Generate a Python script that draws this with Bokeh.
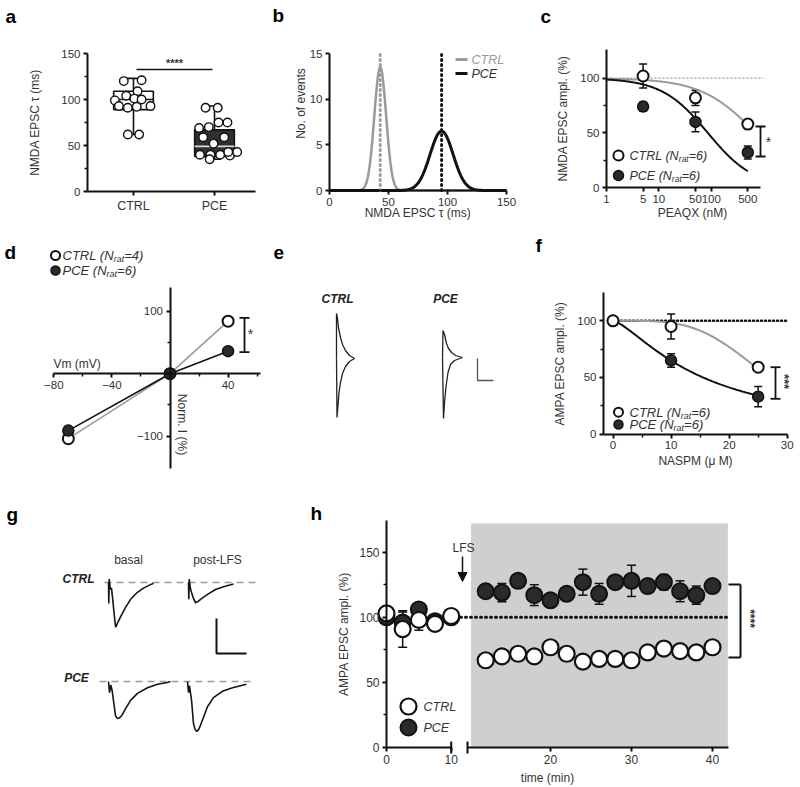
import math
from bokeh.plotting import figure
from bokeh.layouts import row, column
from bokeh.models import (Range1d, FixedTicker, Whisker, TeeHead, ColumnDataSource, Label,
                          Arrow, NormalHead, LinearAxis, BoxAnnotation)
from bokeh.core.properties import value
from bokeh.embed import file_html
from bokeh.resources import INLINE

FONT = "Liberation Sans"
INK = "#111111"
TXT = "#333333"
GREY = "#9a9a9a"
DARK = "#2a2a2a"

# ------------------------------------------------------------------ DATA
# (a) NMDA EPSC decay tau (ms)
a_groups = ["CTRL", "PCE"]
a_ctrl_tau = [120, 121, 109, 99, 104, 101, 100, 93, 93, 91, 92, 62, 62]
a_ctrl_jit = [-0.12, 0.10, 0.05, -0.23, -0.09, 0.01, 0.10, 0.21, -0.18, -0.07, 0.04, -0.07, 0.07]
a_pce_tau = [91, 91, 69, 70, 75, 75, 59, 59, 52, 40, 40, 40, 39, 43, 43, 35]
a_pce_jit = [-0.11, 0.04, -0.19, -0.07, 0.05, 0.16, -0.14, 0.12, -0.01, -0.18, -0.05, 0.07, 0.19, 0.17, 0.28, -0.06]
a_min = [62, 35]
a_q1 = [89, 38]
a_med = [100, 49]
a_q3 = [109, 67]
a_max = [123, 93]

# (b) gaussian fits of tau distributions: mean, sd, amplitude
b_groups = ["CTRL", "PCE"]
b_mean = [43, 95]
b_sd = [5.0, 9.8]
b_amp = [13.5, 6.5]

# (c) PEAQX dose response
c_conc = [5, 50, 500]
c_ctrl = [102, 82, 58]
c_ctrl_err = [11, 7, 4]
c_pce = [74, 60, 32]
c_pce_err = [4, 9, 6]
c_fit_ic50 = [707, 86]      # CTRL, PCE
c_fit_hill = [0.83, 0.985]
c_ticks = [1, 5, 10, 50, 100, 500]

# (d) I-V
d_vm = [-70, 0, 40]
d_ctrl = [-104, 0, 84]
d_ctrl_err = [6, 0, 3]
d_pce = [-91, 0, 36]
d_pce_err = [7, 0, 3]

# (e) example traces (ms, pA) relative to trace onset
e_ctrl_up_t = [0, 0, 0.1, 0.2, 0.4, 0.6, 0.9, 1.3, 1.8]
e_ctrl_up_i = [0, 450, 400, 310, 210, 140, 80, 30, 0]
e_ctrl_dn_t = [0, 0.05, 0.15, 0.25, 0.4, 0.6, 0.9, 1.3, 1.8]
e_ctrl_dn_i = [0, -590, -470, -340, -240, -150, -80, -30, 0]
e_pce_up_t = [0, 0.05, 0.2, 0.4, 0.6, 0.9, 1.3, 2.0]
e_pce_up_i = [0, 270, 230, 140, 90, 50, 20, 0]
e_pce_dn_t = [0, 0.1, 0.2, 0.35, 0.55, 0.8, 1.2, 2.0]
e_pce_dn_i = [0, -610, -450, -290, -150, -70, -30, 0]

# (f) NASPM dose response
f_conc = [0, 10, 25]
f_ctrl = [100, 95, 59]
f_ctrl_err = [0, 11, 3]
f_pce = [100, 65, 33]
f_pce_err = [0, 6, 9]
f_fit_ic50 = [27, 15.5]
f_fit_hill = [4.0, 1.4]

# (g) example EPSC traces (ms, pA) relative to onset
g_ctrl_basal_t = [0, 0.2, 0.5, 1.2, 2, 3, 4, 4.8, 6, 8, 11.3, 14.7, 19.3, 23.3, 28, 30]
g_ctrl_basal_i = [0, -30, 5, -10, -8, -28, -50, -64, -58, -49, -36, -24, -14, -8, -3, -1]
g_ctrl_post_t = [0, 0.2, 0.5, 1.3, 2, 3, 4.7, 6.5, 8, 12.7, 18, 23.3, 30]
g_ctrl_post_i = [0, -24, 5, -9, -14, -21, -29, -27, -24, -17, -10, -6, -2]
g_pce_basal_t = [0, 0.7, 1.5, 2.5, 3.3, 4.7, 6, 7.3, 8.7, 11.3, 14.7, 19.3, 26, 32.7, 39.3, 41.3]
g_pce_basal_i = [0, -16, -5, -14, -27, -49, -53, -52, -49, -39, -27, -17, -9, -4, -1.4, 0]
g_pce_post_t = [0, 0.7, 1.3, 2.7, 4, 5, 6, 7, 8, 10.7, 13.3, 17.3, 23.3, 30, 35.3, 39.3]
g_pce_post_i = [0, -16, -6, -27, -60, -68, -71, -70, -66, -51, -36, -23, -14, -9, -6, -4]

# (h) LFS time course
h_t_pre = [0, 2.5, 5, 7.5, 10]
h_ctrl_pre = [103, 91, 98, 95, 101]
h_ctrl_pre_err = [2, 14, 8, 2, 2]
h_pce_pre = [100, 96, 106, 97, 100]
h_pce_pre_err = [2, 8, 3, 2, 2]
h_t_post = [12, 14, 16, 18, 20, 22, 24, 26, 28, 30, 32, 34, 36, 38, 40]
h_ctrl_post = [67, 70, 72, 70, 77, 72, 66, 68, 68, 67, 73, 76, 74, 73, 77]
h_ctrl_post_err = [2, 2, 2, 2, 2, 2, 2, 2, 2, 2, 2, 2, 2, 2, 2]
h_pce_post = [120, 119, 128, 117, 113, 118, 127, 118, 127, 128, 124, 127, 120, 117, 124]
h_pce_post_err = [3, 7, 3, 8, 3, 3, 10, 8, 3, 12, 3, 6, 8, 7, 3]
h_lfs_start, h_lfs_end, h_shade_top = 10.2, 41.9, 172

# ------------------------------------------------------------------ helpers
CW = {' ': .278, '(': .333, ')': .333, '=': .584, 'C': .722, 'T': .611, 'R': .722, 'L': .556,
      'N': .722, 'P': .667, 'E': .667, 'r': .333, 'a': .556, 't': .278}


def tw(s, size):
    return sum(CW.get(ch, .556) for ch in s) * size


def lin(p1, v1, p2, v2):
    k = (v2 - v1) / (p2 - p1)
    return lambda p: v1 + (p - p1) * k


def panel(rect, fx, fy, **kw):
    """Figure whose frame covers the whole canvas; rect in page pixels."""
    L, T, R, B = rect
    p = figure(width=R - L, height=B - T,
               x_range=Range1d(fx(L), fx(R)), y_range=Range1d(fy(B), fy(T)),
               output_backend="svg", toolbar_location=None, min_border=0, **kw)
    if "frame_align" in p.properties():
        p.frame_align = False
    p.title.visible = False
    p.outline_line_color = None
    p.xgrid.visible = False
    p.ygrid.visible = False
    p.background_fill_color = "white"
    p.border_fill_color = "white"
    return p


def style_axes(p, tsize="11.5px", lsize="12px"):
    for ax in list(p.xaxis) + list(p.yaxis):
        ax.axis_line_width = 2
        ax.axis_line_color = INK
        ax.major_tick_line_width = 2
        ax.major_tick_line_color = INK
        ax.major_tick_out = 4
        ax.major_tick_in = 0
        ax.minor_tick_line_width = 1.5
        ax.minor_tick_line_color = INK
        ax.minor_tick_out = 3
        ax.minor_tick_in = 0
        ax.major_label_text_font = FONT
        ax.major_label_text_font_size = tsize
        ax.major_label_text_color = TXT
        ax.major_label_standoff = 3
        ax.axis_label_text_font = FONT
        ax.axis_label_text_font_size = lsize
        ax.axis_label_text_font_style = "normal"
        ax.axis_label_text_color = TXT


def note(p, x, y, s, size="12px", style="normal", color=TXT, align="center",
         baseline="middle", angle=0.0, **kw):
    p.add_layout(Label(x=x, y=y, text=s, text_font=FONT, text_font_size=size,
                       text_font_style=style, text_color=color, text_align=align,
                       text_baseline=baseline, angle=angle, **kw))


def letter(p, ch, x, y):
    note(p, x, y, ch, size="19px", style="bold", color="black", align="left")


def sub_label(p, fx, fy, px, py, pre, sub, post, size, sub_size, color=TXT):
    x = px
    for s, sz, dy in ((pre, size, 0), (sub, sub_size, 0.3 * size), (post, size, 0)):
        note(p, fx(x), fy(py + dy), s, size=f"{sz}px", style="italic", color=color, align="left")
        x += tw(s, sz)


def whisk(p, xs, lo, hi, color=INK, lw=1.5, head=7, **kw):
    src = ColumnDataSource(dict(x=list(xs), lo=list(lo), hi=list(hi)))

    def hd():
        return TeeHead(size=head, line_color=color, line_width=lw) if head else None
    p.add_layout(Whisker(source=src, base="x", lower="lo", upper="hi", line_color=color,
                         line_width=lw, upper_head=hd(), lower_head=hd(), **kw))


def errbars(p, xs, ys, es, **kw):
    whisk(p, xs, [y - e for y, e in zip(ys, es)], [y + e for y, e in zip(ys, es)], **kw)


def open_pts(p, x, y, size=10, lw=2, **kw):
    p.scatter(x=x, y=y, size=size, fill_color="white", line_color=INK, line_width=lw, **kw)


def fill_pts(p, x, y, size=10, lw=1.5, **kw):
    p.scatter(x=x, y=y, size=size, fill_color=DARK, line_color=INK, line_width=lw, **kw)


def place_axes(p, xloc, xb, yloc, yb):
    p.xaxis.fixed_location = xloc
    p.xaxis.bounds = xb
    p.yaxis.fixed_location = yloc
    p.yaxis.bounds = yb


# ------------------------------------------------------------------ panel a
fxA, fyA = lin(133, 1, 214, 2), lin(191, 0, 53, 150)
pa = panel((0, 0, 268, 230), fxA, fyA)
a_x = [i + 1 for i in range(len(a_groups))]
pa.segment(x0=a_x, y0=a_q3, x1=a_x, y1=a_max, line_color=INK, line_width=1.6)
pa.segment(x0=a_x, y0=a_min, x1=a_x, y1=a_q1, line_color=INK, line_width=1.6)
pa.segment(x0=[x - 0.08 for x in a_x] * 2, y0=a_max + a_min,
           x1=[x + 0.08 for x in a_x] * 2, y1=a_max + a_min, line_color=INK, line_width=1.6)
pa.vbar(x=a_x, bottom=a_q1, top=a_q3, width=0.49, fill_color=["white", "#303030"],
        line_color=INK, line_width=1.6)
pa.segment(x0=[x - 0.245 for x in a_x], y0=a_med, x1=[x + 0.245 for x in a_x], y1=a_med,
           line_color=[INK, "#dcdcdc"], line_width=1.6)
open_pts(pa, [a_x[0] + j for j in a_ctrl_jit], a_ctrl_tau, size=8.5, lw=1.4)
open_pts(pa, [a_x[1] + j for j in a_pce_jit], a_pce_tau, size=8.5, lw=1.4)
pa.segment(x0=[fxA(136)], y0=[fyA(69)], x1=[fxA(212)], y1=[fyA(69)], line_color=INK, line_width=1.6)
note(pa, fxA(174), fyA(62), "****", size="11px", style="bold", color=TXT)
place_axes(pa, 0, (fxA(87), fxA(255)), fxA(87), (0, 150))
pa.xaxis.ticker = FixedTicker(ticks=a_x, minor_ticks=[])
pa.xaxis.major_label_overrides = {x: g for x, g in zip(a_x, a_groups)}
pa.yaxis.ticker = FixedTicker(ticks=[0, 50, 100, 150], minor_ticks=[25, 75, 125])
pa.yaxis.axis_label = "NMDA EPSC τ (ms)"
style_axes(pa)
pa.xaxis.major_label_text_font_size = "12.5px"
pa.yaxis.axis_label_standoff = 16
letter(pa, "a", fxA(5), fyA(16))

# ------------------------------------------------------------------ panel b
fxB, fyB = lin(329, 0, 506, 150), lin(190, 0, 53, 15)
pb = panel((268, 0, 528, 230), fxB, fyB)
xx = [i * 0.5 for i in range(301)]
b_cols = [GREY, INK]
b_w = [2.5, 3]
for m, s, a, c, w in zip(b_mean, b_sd, b_amp, b_cols, b_w):
    pb.line(xx, [a * math.exp(-0.5 * ((x - m) / s) ** 2) for x in xx], line_color=c, line_width=w)
pb.segment(x0=b_mean, y0=[0, 0], x1=b_mean, y1=[15, 15], line_color=b_cols,
           line_dash="1 4", line_width=3, line_cap="round")
for py, c, g in ((59, GREY, b_groups[0]), (73, INK, b_groups[1])):
    pb.segment(x0=[fxB(455)], y0=[fyB(py)], x1=[fxB(467)], y1=[fyB(py)], line_color=c, line_width=3)
    note(pb, fxB(471), fyB(py), g, size="12.5px", style="italic", color=c if c == GREY else TXT, align="left")
place_axes(pb, 0, (0, 150), 0, (0, 15))
pb.xaxis.ticker = FixedTicker(ticks=[0, 50, 100, 150], minor_ticks=[])
pb.yaxis.ticker = FixedTicker(ticks=[0, 5, 10, 15], minor_ticks=[])
pb.xaxis.axis_label = "NMDA EPSC τ (ms)"
style_axes(pb)
pb.xaxis.axis_label_standoff = -3
note(pb, fxB(300), fyB(103), "No. of events", angle=math.pi / 2)
letter(pb, "b", fxB(272), fyB(15))

# ------------------------------------------------------------------ panel c


def fxC(px):
    return 10 ** ((px - 606) / 52.36)


fyC = lin(187, 0, 77.7, 100)
pc = panel((528, 0, 800, 230), fxC, fyC, x_axis_type="log")
pc.line([1, fxC(763)], [100, 100], line_color=GREY, line_width=1.2, line_dash="2 2")
xl = [10 ** (i * math.log10(500) / 200) for i in range(201)]
for ic, n, c in zip(c_fit_ic50, c_fit_hill, [GREY, INK]):
    pc.line(xl, [100 / (1 + (x / ic) ** n) for x in xl], line_color=c, line_width=2)
errbars(pc, c_conc, c_ctrl, c_ctrl_err, head=8)
errbars(pc, c_conc, c_pce, c_pce_err, head=8)
fill_pts(pc, c_conc, c_pce, size=11)
open_pts(pc, c_conc, c_ctrl, size=11)
whisk(pc, [fxC(760)], [fyC(156)], [fyC(126)], lw=1.8, head=10)
note(pc, fxC(768), fyC(141), "*", size="14px", color=TXT)
fill_pts(pc, [fxC(618)], [fyC(175)], size=10)
open_pts(pc, [fxC(618)], [fyC(155)], size=10)
sub_label(pc, fxC, fyC, 629, 155, "CTRL (N", "rat", "=6)", 12.5, 8.5)
sub_label(pc, fxC, fyC, 629, 175, "PCE (N", "rat", "=6)", 12.5, 8.5)
place_axes(pc, 0, (1, fxC(760)), 1, (0, fyC(49)))
pc.xaxis.ticker = FixedTicker(ticks=c_ticks, minor_ticks=[])
pc.xaxis.major_label_overrides = {t: str(t) for t in c_ticks}
pc.yaxis.ticker = FixedTicker(ticks=[0, 50, 100], minor_ticks=[25, 75])
pc.yaxis.axis_label = "NMDA EPSC ampl. (%)"
style_axes(pc)
pc.yaxis.axis_label_standoff = 7
note(pc, fxC(692), fyC(212), "PEAQX (nM)")
letter(pc, "c", fxC(540), fyC(16))

# ------------------------------------------------------------------ panel d
fxD, fyD = lin(169.5, 0, 227.6, 40), lin(373.2, 0, 310.7, 100)
pd = panel((0, 230, 268, 470), fxD, fyD)
place_axes(pd, 0, (-80, 62), 0, (-152, 138))
pd.xaxis.ticker = FixedTicker(ticks=[-80, -40, 0, 40], minor_ticks=[-60, -20, 20, 60])
pd.xaxis.major_label_overrides = {0: ""}
pd.yaxis.ticker = FixedTicker(ticks=[-100, 0, 100], minor_ticks=[-50, 50])
pd.yaxis.major_label_overrides = {0: ""}
style_axes(pd)
pd.line(d_vm, d_ctrl, line_color=GREY, line_width=1.6)
pd.line(d_vm, d_pce, line_color=INK, line_width=1.6)
errbars(pd, d_vm, d_ctrl, d_ctrl_err, head=7)
errbars(pd, d_vm, d_pce, d_pce_err, head=7)
open_pts(pd, d_vm, d_ctrl, size=11)
fill_pts(pd, d_vm, d_pce, size=11)
whisk(pd, [fxD(244)], [fyD(351.7)], [fyD(317.3)], lw=1.8, head=10)
note(pd, fxD(250), fyD(333), "*", size="14px")
open_pts(pd, [fxD(55)], [fyD(255)], size=9)
fill_pts(pd, [fxD(55)], [fyD(270)], size=9)
sub_label(pd, fxD, fyD, 62, 255, "CTRL (N", "rat", "=4)", 13, 9)
sub_label(pd, fxD, fyD, 62, 270, "PCE (N", "rat", "=6)", 13, 9)
note(pd, fxD(53), fyD(363), "Vm (mV)", align="left")
note(pd, fxD(181), fyD(424), "Norm. I (%)", angle=-math.pi / 2)
letter(pd, "d", fxD(4), fyD(252))

# ------------------------------------------------------------------ panel e
fxE, fyE = lin(268, 0, 278, 1), lin(470, 0, 469, 10)
pe = panel((268, 230, 528, 470), fxE, fyE)
pe.axis.visible = False
for (x0, y0), traces in (((fxE(336), fyE(358)), ((e_ctrl_up_t, e_ctrl_up_i), (e_ctrl_dn_t, e_ctrl_dn_i))),
                         ((fxE(442), fyE(357)), ((e_pce_up_t, e_pce_up_i), (e_pce_dn_t, e_pce_dn_i)))):
    for tt, ii in traces:
        pe.line([x0 + t for t in tt], [y0 + i for i in ii], line_color="#222222", line_width=1.3)
pe.line([fxE(477), fxE(477), fxE(493)], [fyE(358), fyE(380), fyE(380)], line_color="#555555", line_width=1.3)
note(pe, fxE(337), fyE(298), "CTRL", size="12px", style="bold italic", color="#222")
note(pe, fxE(445), fyE(298), "PCE", size="12px", style="bold italic", color="#222")
letter(pe, "e", fxE(273), fyE(252))

# ------------------------------------------------------------------ panel f
fxF, fyF = lin(612.5, 0, 786.7, 30), lin(433.5, 0, 320.3, 100)
pf = panel((528, 230, 800, 470), fxF, fyF)
pf.line([0, 30], [100, 100], line_color=INK, line_width=2.5, line_dash="1 3", line_cap="round")
xf = [i * 25 / 200 for i in range(201)]
for ic, n, c in zip(f_fit_ic50, f_fit_hill, [GREY, INK]):
    pf.line(xf, [100 / (1 + (x / ic) ** n) for x in xf], line_color=c, line_width=2)
errbars(pf, f_conc, f_ctrl, f_ctrl_err, head=8)
errbars(pf, f_conc, f_pce, f_pce_err, head=8)
fill_pts(pf, f_conc, f_pce, size=11)
open_pts(pf, f_conc, f_ctrl, size=11)
whisk(pf, [fxF(775)], [fyF(398.3)], [fyF(366.7)], lw=1.8, head=10)
note(pf, fxF(784), fyF(381), "***", size="13px", style="bold", angle=-math.pi / 2)
open_pts(pf, [fxF(618)], [fyF(411.7)], size=9)
fill_pts(pf, [fxF(618)], [fyF(424)], size=9)
sub_label(pf, fxF, fyF, 629, 411.7, "CTRL (N", "rat", "=6)", 13, 9)
sub_label(pf, fxF, fyF, 629, 424, "PCE (N", "rat", "=6)", 13, 9)
place_axes(pf, 0, (fxF(603), 30), fxF(603), (0, fyF(292)))
pf.xaxis.ticker = FixedTicker(ticks=[0, 10, 20, 30], minor_ticks=[5, 15, 25])
pf.yaxis.ticker = FixedTicker(ticks=[0, 50, 100], minor_ticks=[25, 75])
pf.xaxis.axis_label = "NASPM (μ M)"
pf.yaxis.axis_label = "AMPA EPSC ampl. (%)"
style_axes(pf)
pf.xaxis.axis_label_standoff = 1
pf.yaxis.axis_label_standoff = 7
letter(pf, "f", fxF(535), fyF(245))

# ------------------------------------------------------------------ panel g
fxG, fyG = lin(0, 0, 1.5, 1), lin(787, 0, 786.3, 1)
pg = panel((0, 470, 300, 787), fxG, fyG)
pg.axis.visible = False
pg.line([fxG(104), fxG(255)], [fyG(582)] * 2, line_color=GREY, line_width=1.5, line_dash="7 5")
pg.line([fxG(99), fxG(252)], [fyG(681)] * 2, line_color=GREY, line_width=1.5, line_dash="7 5")
for (px, py), tt, ii in (((108, 582), g_ctrl_basal_t, g_ctrl_basal_i),
                         ((188, 582), g_ctrl_post_t, g_ctrl_post_i),
                         ((108, 681), g_pce_basal_t, g_pce_basal_i),
                         ((187, 681), g_pce_post_t, g_pce_post_i)):
    pg.line([fxG(px) + t for t in tt], [fyG(py) + i for i in ii], line_color="#151515", line_width=1.6)
pg.line([fxG(216), fxG(216), fxG(246)], [fyG(618), fyG(653), fyG(653)], line_color=INK, line_width=2)
note(pg, fxG(128), fyG(559), "basal", size="12px")
note(pg, fxG(217), fyG(559), "post-LFS", size="12px")
note(pg, fxG(78), fyG(578), "CTRL", size="12px", style="bold italic", color="#222")
note(pg, fxG(76), fyG(677), "PCE", size="12px", style="bold italic", color="#222")
letter(pg, "g", fxG(6), fyG(514))

# ------------------------------------------------------------------ panel h
fxR, fxL, fyH = lin(550, 20, 712, 40), lin(386, 0, 450.7, 10), lin(747, 0, 551.7, 150)
ph = panel((300, 470, 800, 787), fxR, fyH)
ph.extra_x_ranges = {"left": Range1d(fxL(300), fxL(800))}
ph.add_layout(BoxAnnotation(left=h_lfs_start, right=h_lfs_end, bottom=0, top=h_shade_top,
                            fill_color="#cfcfcf", fill_alpha=1, line_color=None, level="underlay"))
ph.line([fxR(460), fxR(728)], [100, 100], line_color=INK, line_width=3, line_dash="1 4", line_cap="round")
errbars(ph, h_t_pre, h_pce_pre, h_pce_pre_err, head=9, x_range_name="left")
errbars(ph, h_t_pre, h_ctrl_pre, h_ctrl_pre_err, head=9, x_range_name="left")
errbars(ph, h_t_post, h_pce_post, h_pce_post_err, head=9)
errbars(ph, h_t_post, h_ctrl_post, h_ctrl_post_err, head=9)
fill_pts(ph, h_t_pre, h_pce_pre, size=16, lw=2, x_range_name="left")
open_pts(ph, h_t_pre, h_ctrl_pre, size=16, lw=2.2, x_range_name="left")
fill_pts(ph, h_t_post, h_pce_post, size=16, lw=2)
open_pts(ph, h_t_post, h_ctrl_post, size=16, lw=2.2)
# significance bracket
ph.segment(x0=[fxR(740), fxR(728), fxR(728)], y0=[fyH(584), fyH(584), fyH(657)],
           x1=[fxR(740), fxR(740), fxR(740)], y1=[fyH(657), fyH(584), fyH(657)],
           line_color=INK, line_width=2)
note(ph, fxR(749), fyH(618), "****", size="12px", style="bold", angle=-math.pi / 2)
# LFS arrow
ph.add_layout(Arrow(end=NormalHead(size=9, fill_color=INK, line_color=INK), x_start=fxR(462), y_start=fyH(556),
                    x_end=fxR(462), y_end=fyH(581), line_color=INK, line_width=1.5))
note(ph, fxR(463), fyH(547), "LFS", size="12px")
# legend
open_pts(ph, [fxR(408)], [fyH(706)], size=16, lw=2.2)
fill_pts(ph, [fxR(408)], [fyH(727)], size=16, lw=2)
note(ph, fxR(423), fyH(706), "CTRL", size="12.5px", style="italic", align="left")
note(ph, fxR(423), fyH(727), "PCE", size="12.5px", style="italic", align="left")
# axes (broken time axis)
axL = LinearAxis(x_range_name="left", bounds=(0, 10), ticker=FixedTicker(ticks=[0, 10], minor_ticks=[]))
axL.fixed_location = 0
ph.add_layout(axL, "below")
ph.xaxis[0].fixed_location = 0
ph.xaxis[0].bounds = (fxR(467), fxR(728))
ph.xaxis[0].ticker = FixedTicker(ticks=[20, 30, 40], minor_ticks=[])
ph.yaxis.fixed_location = fxR(386)
ph.yaxis.bounds = (0, fyH(520))
ph.yaxis.ticker = FixedTicker(ticks=[0, 50, 100, 150], minor_ticks=[25, 75, 125])
ph.yaxis.axis_label = "AMPA EPSC ampl. (%)"
style_axes(ph, tsize="12px")
ph.yaxis.axis_label_standoff = 5
whisk(ph, [10], [fyH(753)], [fyH(741)], lw=2, head=0, x_range_name="left")
whisk(ph, [fxR(467)], [fyH(753)], [fyH(741)], lw=2, head=0)
note(ph, fxR(547), fyH(777), "time (min)", size="12px")
letter(ph, "h", fxR(310), fyH(513))

layout = column(row(pa, pb, pc), row(pd, pe, pf), row(pg, ph))
open("out.html", "w").write(file_html(layout, INLINE, "figure"))
